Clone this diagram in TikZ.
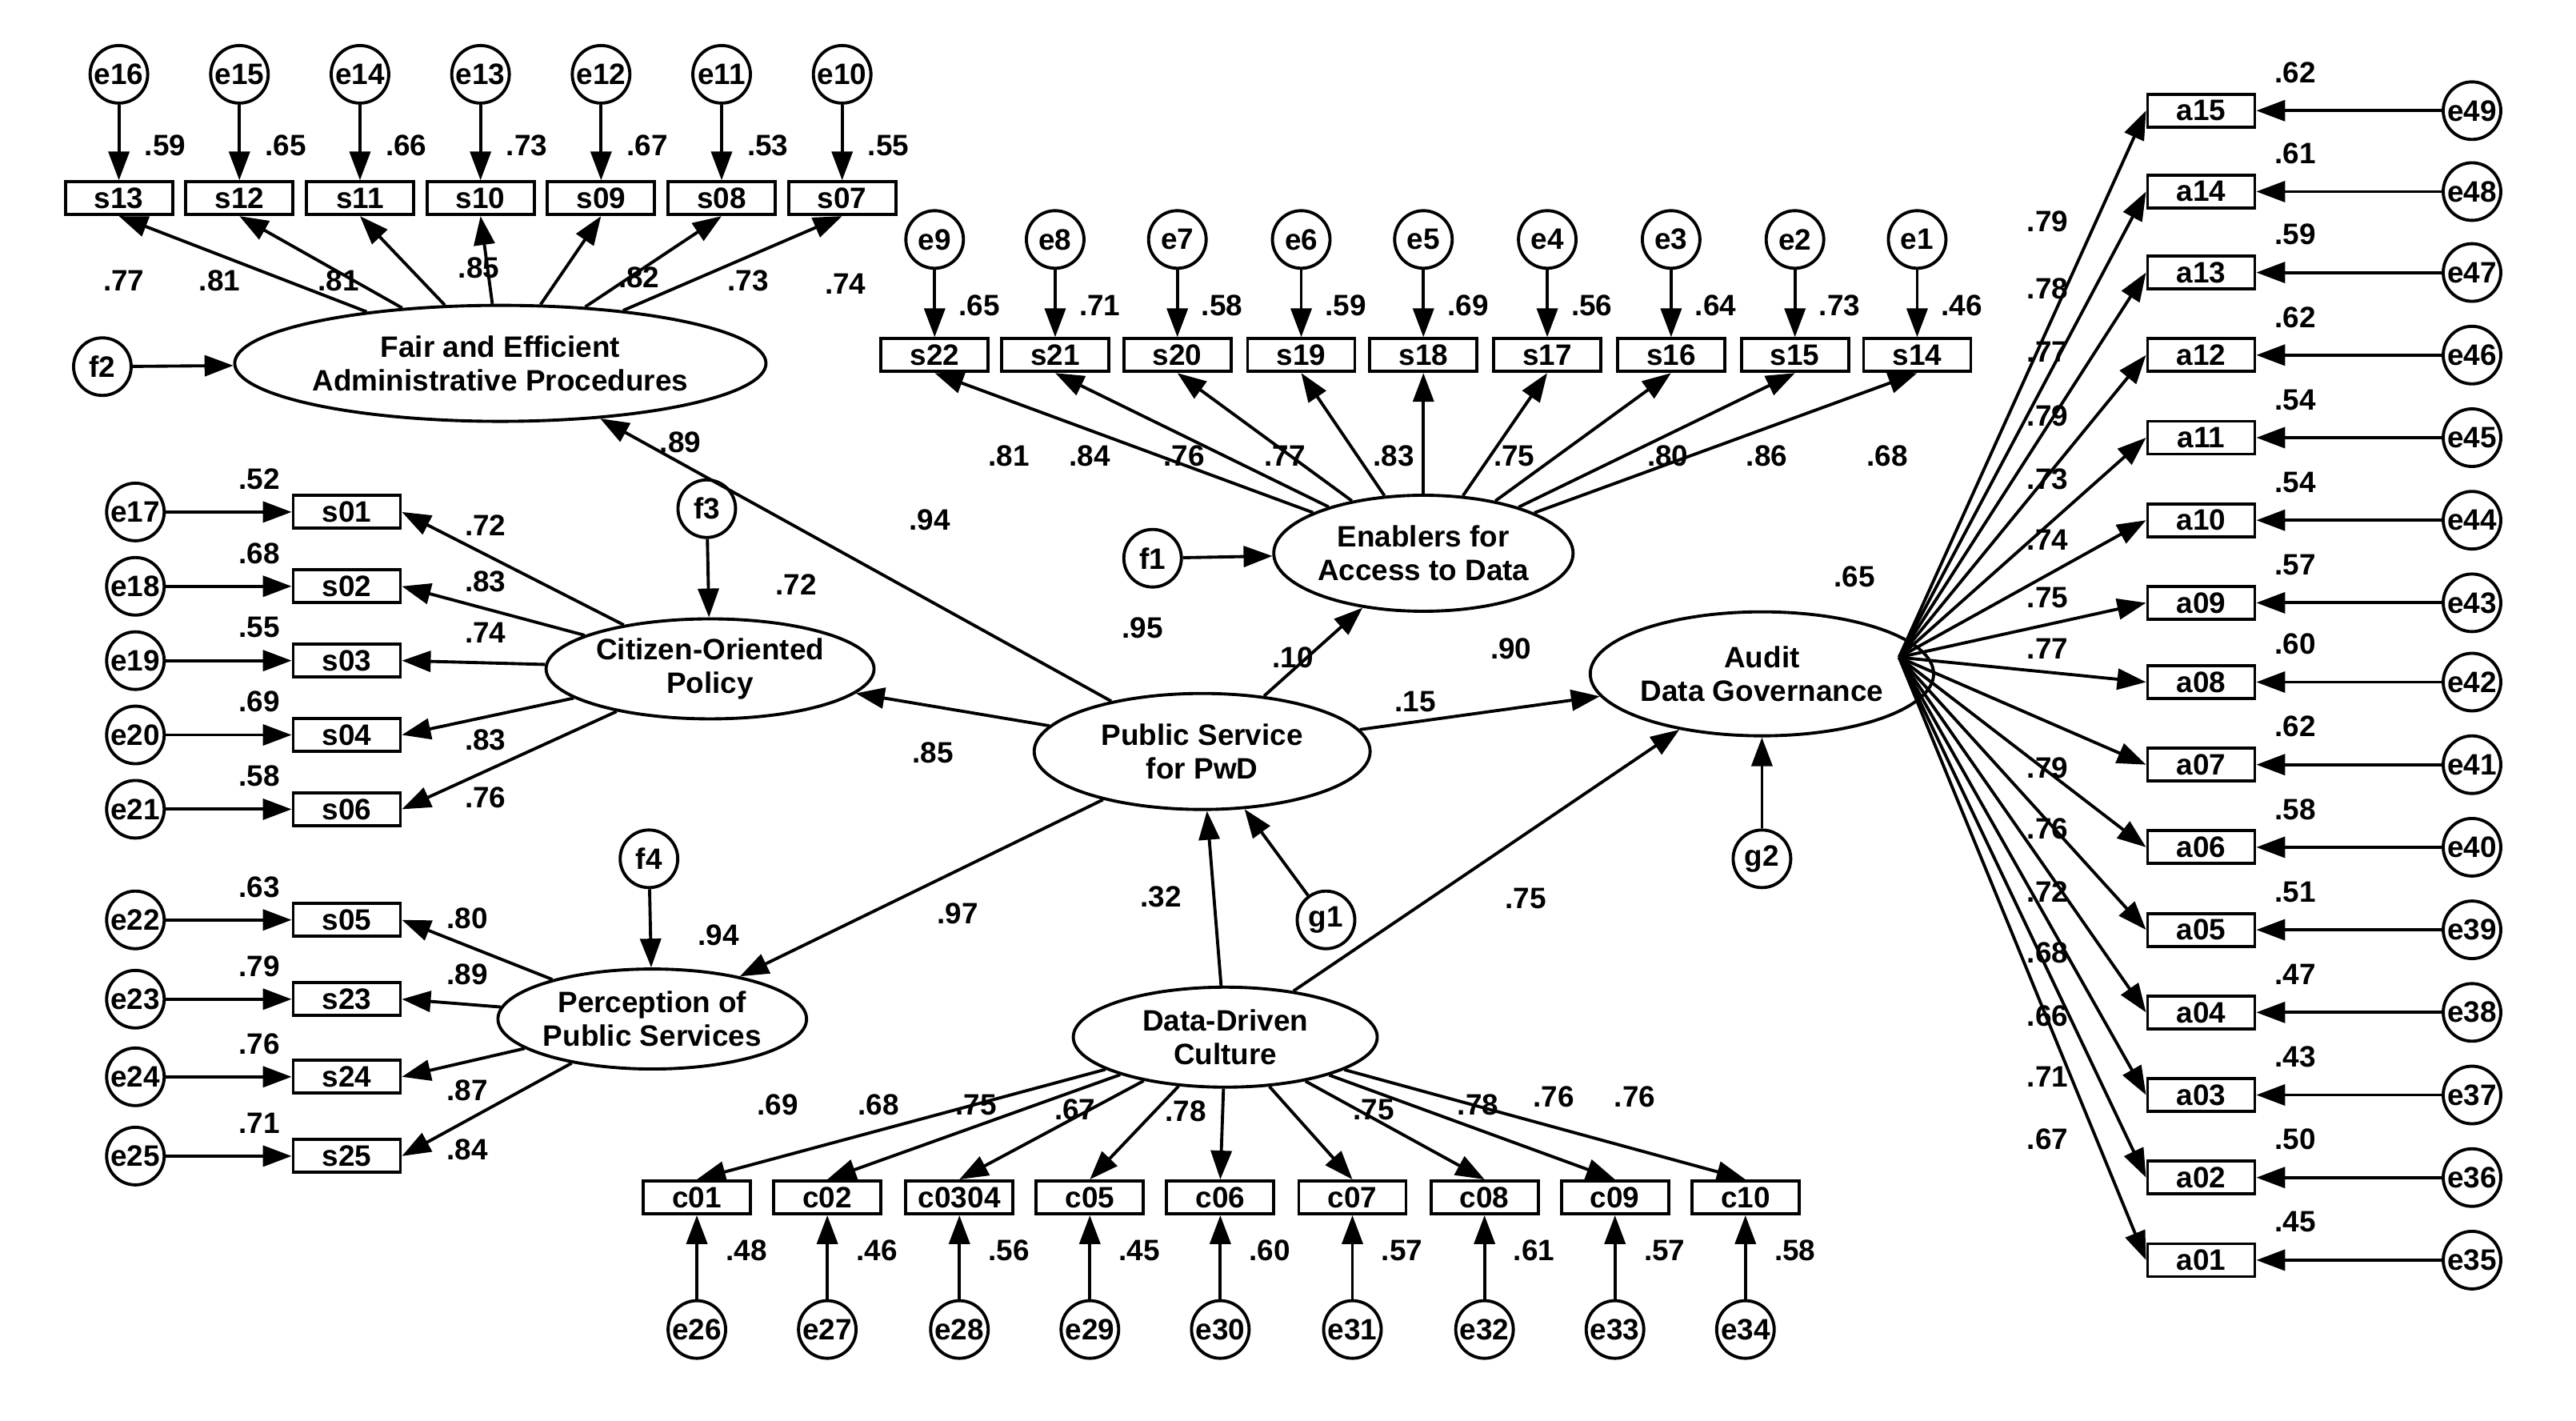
\documentclass[tikz,border=0pt]{standalone}
\usepackage{fontspec}
\setmainfont{Liberation Sans}
\usetikzlibrary{arrows.meta}
\usetikzlibrary{shapes.geometric}
\begin{document}
\begin{tikzpicture}[
		x=0.02064cm, y=-0.02064cm,
		% Styles for the measurement model
		lat/.style={draw, ellipse, line width=1.1pt, align=center, inner sep=0pt, font=\fontsize{10.5}{12}\selectfont\bfseries},
		ind/.style={draw, rectangle, line width=1.1pt, minimum width=1.34cm, minimum height=0.41cm, inner sep=1pt, font=\fontsize{10.5}{12}\selectfont\bfseries},
		err/.style={draw, circle, line width=1.1pt, minimum size=0.72cm, inner sep=0pt, font=\fontsize{10.5}{12}\selectfont\bfseries},
		lbl/.style={font=\fontsize{10.5}{12}\selectfont\bfseries, inner sep=0pt},
		arr/.style={-{Triangle[length=3.6mm, width=2.6mm]}, line width=1.1pt},
		]
		\useasboundingbox (0,0) rectangle (1560,860);

		% === Latent variables ===
		\node[lat, minimum width=6.3cm, minimum height=1.45cm] (fair) at (303,220) {Fair and Efficient\\Administrative Procedures};
		\node[lat, minimum width=3.5cm, minimum height=1.45cm] (enab) at (862,335) {Enablers for\\Access to Data};
		\node[lat, minimum width=4.1cm, minimum height=1.25cm] (cit) at (430,405) {Citizen-Oriented\\Policy};
		\node[lat, minimum width=3.8cm, minimum height=1.25cm] (perc) at (395,617) {Perception of\\Public Services};
		\node[lat, minimum width=4.2cm, minimum height=1.45cm] (pwd) at (728,455) {Public Service\\for PwD};
		\node[lat, minimum width=3.8cm, minimum height=1.25cm] (ddc) at (742,628) {Data-Driven\\Culture};
		\node[lat, minimum width=4.2cm, minimum height=1.55cm] (aud) at (1067,408) {Audit\\Data Governance};
		\coordinate (hub) at (1150,398);

		% === Disturbances ===
		\node[err] (f2) at (62,222) {f2};
		\node[err] (f1) at (698,338) {f1};
		\node[err] (f3) at (428,308) {f3};
		\node[err] (f4) at (393,520) {f4};
		\node[err] (g1) at (803,557) {g1};
		\node[err] (g2) at (1067,520) {g2};
		\draw[arr] (f2) -- (fair);
		\draw[arr] (f1) -- (enab);
		\draw[arr] (f3) -- (cit);
		\draw[arr] (f4) -- (perc);
		\draw[arr] (g1) -- (pwd);
		\draw[arr] (g2) -- (aud);

		% === Structural paths ===
		\draw[arr] (pwd) -- (fair);
		\draw[arr] (pwd) -- (enab);
		\draw[arr] (pwd) -- (cit);
		\draw[arr] (pwd) -- (perc);
		\draw[arr] (pwd) -- (aud);
		\draw[arr] (ddc) -- (pwd);
		\draw[arr] (ddc) -- (aud);
		\node[lbl] at (563,315) {.94};
		\node[lbl] at (412,268) {.89};
		\node[lbl] at (692,380) {.95};
		\node[lbl] at (783,398) {.10};
		\node[lbl] at (482,354) {.72};
		\node[lbl] at (565,456) {.85};
		\node[lbl] at (435,566) {.94};
		\node[lbl] at (580,553) {.97};
		\node[lbl] at (857,425) {.15};
		\node[lbl] at (915,393) {.90};
		\node[lbl] at (1123,349) {.65};
		\node[lbl] at (703,543) {.32};
		\node[lbl] at (924,544) {.75};

		% === Fair and Efficient items ===
		\foreach \e/\s/\x/\r/\l/\lx/\ly in {16/13/72/.59/.77/75/170, 15/12/145/.65/.81/133/170, 14/11/218/.66/.81/205/170, 13/10/291/.73/.85/290/162, 12/09/364/.67/.82/387/168, 11/08/437/.53/.73/453/170, 10/07/510/.55/.74/512/172} {
			\node[err] (e\e) at (\x,45) {e\e};
			\node[ind] (s\s) at (\x,120) {s\s};
			\draw[arr] (e\e) -- (s\s);
			\draw[arr] (fair) -- (s\s.south);
			\node[lbl] at (\x+28,88) {\r};
			\node[lbl] at (\lx,\ly) {\l};
		}

		% === Enablers items ===
		\foreach \e/\s/\x/\r/\l/\lx in {9/22/566/.65/.81/611, 8/21/639/.71/.84/660, 7/20/713/.58/.76/717, 6/19/788/.59/.77/778, 5/18/862/.69/.83/844, 4/17/937/.56/.75/917, 3/16/1012/.64/.80/1010, 2/15/1087/.73/.86/1070, 1/14/1161/.46/.68/1143} {
			\node[err] (e\e) at (\x,145) {e\e};
			\node[ind] (s\s) at (\x,215) {s\s};
			\draw[arr] (e\e) -- (s\s);
			\draw[arr] (enab) -- (s\s.south);
			\node[lbl] at (\x+27,185) {\r};
			\node[lbl] at (\lx,276) {\l};
		}

		% === Citizen-Oriented items ===
		\foreach \e/\s/\y/\r/\l/\ly in {17/01/310/.52/.72/318, 18/02/355/.68/.83/352, 19/03/400/.55/.74/383, 20/04/445/.69/.83/448, 21/06/490/.58/.76/483} {
			\node[err] (e\e) at (82,\y) {e\e};
			\node[ind] (s\s) at (210,\y) {s\s};
			\draw[arr] (e\e) -- (s\s);
			\draw[arr] (cit) -- (s\s.east);
			\node[lbl] at (157,\y-20) {\r};
			\node[lbl] at (294,\ly) {\l};
		}

		% === Perception items ===
		\foreach \e/\s/\y/\r/\l/\ly in {22/05/557/.63/.80/556, 23/23/605/.79/.89/590, 24/24/652/.76/.87/660, 25/25/700/.71/.84/696} {
			\node[err] (e\e) at (82,\y) {e\e};
			\node[ind] (s\s) at (210,\y) {s\s};
			\draw[arr] (e\e) -- (s\s);
			\draw[arr] (perc) -- (s\s.east);
			\node[lbl] at (157,\y-20) {\r};
			\node[lbl] at (283,\ly) {\l};
		}

		% === Data-Driven Culture items ===
		\foreach \e/\c/\x/\r/\l/\lx/\ly in {26/01/422/.48/.69/471/669, 27/02/501/.46/.68/532/669, 28/0304/581/.56/.75/591/669, 29/05/660/.45/.67/651/672, 30/06/739/.60/.78/718/673, 31/07/819/.57/.75/832/672, 32/08/899/.61/.78/895/669, 33/09/978/.57/.76/941/664, 34/10/1057/.58/.76/990/664} {
			\node[err] (e\e) at (\x,805) {e\e};
			\node[ind] (c\c) at (\x,725) {c\c};
			\draw[arr] (e\e) -- (c\c);
			\draw[arr] (ddc) -- (c\c.north);
			\node[lbl] at (\x+30,757) {\r};
			\node[lbl] at (\lx,\ly) {\l};
		}

		% === Audit items ===
		\foreach \e/\a/\y/\r/\l/\ly in {49/15/67/.62/.79/134, 48/14/116/.61/.78/175, 47/13/165/.59/.77/213, 46/12/215/.62/.79/252, 45/11/265/.54/.73/290, 44/10/315/.54/.74/327, 43/09/365/.57/.75/362, 42/08/413/.60/.77/393, 41/07/463/.62/.79/465, 40/06/513/.58/.76/502, 39/05/563/.51/.72/540, 38/04/613/.47/.68/577, 37/03/663/.43/.66/615, 36/02/713/.50/.71/652, 35/01/763/.45/.67/690} {
			\node[err] (e\e) at (1497,\y) {e\e};
			\node[ind] (a\a) at (1333,\y) {a\a};
			\draw[arr] (e\e) -- (a\a);
			\draw[arr] (hub) -- (a\a.west);
			\node[lbl] at (1390,\y-23) {\r};
			\node[lbl] at (1240,\ly) {\l};
		}
	\end{tikzpicture}
\end{document}
